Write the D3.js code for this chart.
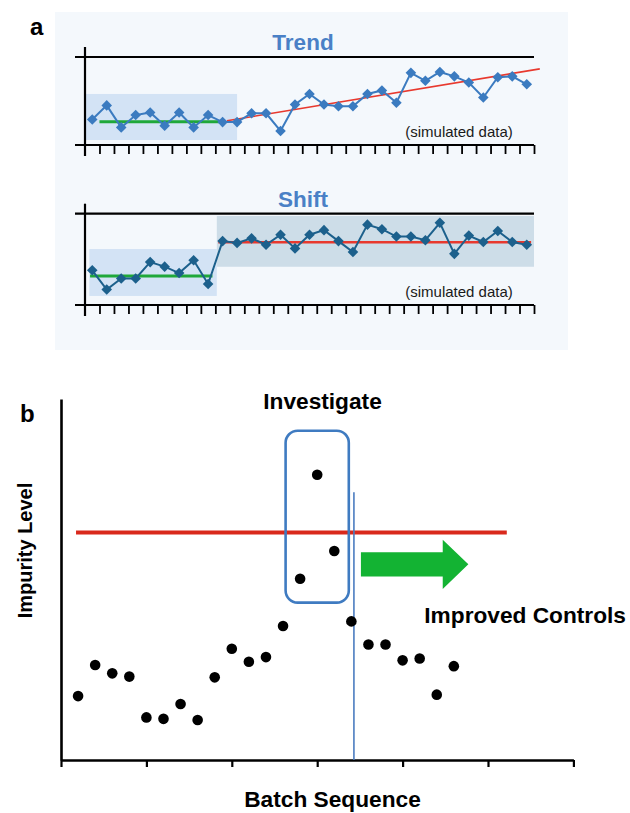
<!DOCTYPE html>
<html>
<head>
<meta charset="utf-8">
<script src="https://cdn.jsdelivr.net/npm/d3@7"></script>
<style>
  html, body { margin: 0; padding: 0; background: #fff; }
  svg { display: block; font-family: "Liberation Sans", Arial, Helvetica, sans-serif; }
</style>
</head>
<body>
<svg id="chart" width="630" height="813"></svg>
<script>
// ---------------- DATA ----------------
// Panel a: run charts (31 batches each), simulated data
const runIndex = d3.range(0, 31);
const trendValues = [2.9, 4.5, 2.0, 3.4, 3.7, 2.2, 3.7, 2.0, 3.4, 2.6, 2.6, 3.6, 3.6, 1.6, 4.6, 5.8,
                     4.6, 4.4, 4.4, 5.8, 6.2, 4.8, 8.2, 7.3, 8.3, 7.8, 7.1, 5.4, 7.7, 7.8, 6.9];
const shiftValues = [3.8, 1.7, 2.9, 2.9, 4.7, 4.2, 3.5, 4.9, 2.3, 7.0, 6.8, 7.3, 6.6, 7.7, 6.2, 7.7,
                     8.2, 7.0, 5.8, 8.8, 8.3, 7.5, 7.5, 7.1, 9.0, 5.6, 7.6, 6.9, 8.1, 6.9, 6.6];
const runTicks = d3.range(0.5, 31, 1);
// reference segments [x0, y0, x1, y1] in data units
const trendBaseline = [0.5, 2.65, 8.95, 2.65];
const trendFit      = [9.3, 2.75, 30.9, 8.65];
const shiftBaseline1 = [-0.15, 3.18, 8.3, 3.18];
const shiftBaseline2 = [8.7, 6.87, 30.3, 6.87];
// shaded zones [x0, y0, x1, y1] in data units
const trendZones = [[-0.5, 0.57, 10.0, 5.8]];
const shiftZones = [[-0.2, 0.99, 8.6, 6.13], [8.6, 4.19, 30.5, 9.75]];

// Panel b: impurity level by batch
const batches = d3.range(1, 24);
const impurity = [17.7, 26.3, 24.0, 23.1, 11.8, 11.4, 15.5, 11.1, 22.9, 30.8, 27.2, 28.5, 37.1,
                  50.2, 79.0, 57.9, 38.4, 32.0, 32.0, 27.6, 28.1, 18.1, 26.0];
const batchTicks = [0, 5, 10, 15, 20, 25, 30];
const limitLine = [0.88, 63.0, 26.1, 63.0];
const investigateBox = [13.15, 43.6, 16.85, 91.2];
const changeLine = [17.15, 0, 17.15, 74.2];
const arrowSpec = [17.56, 22.35, 23.85, 54.2]; // tail x, head-base x, tip x, center y

// ---------------- DRAW ----------------
const svg = d3.select("#chart");

// Panel a background
svg.append("rect").attr("x", 55).attr("y", 12).attr("width", 513).attr("height", 338)
  .attr("fill", "#f4f8fc");

svg.append("text").attr("x", 30).attr("y", 35).attr("font-size", 24).attr("font-weight", "bold")
  .attr("fill", "#000").text("a");

const xA = d3.scaleLinear().domain([-0.5, 30.5]).range([85, 534]);

function runChart(cfg) {
  const y = d3.scaleLinear().domain([0, 10]).range([cfg.bottom, cfg.top]);
  const g = svg.append("g");
  // zones
  g.selectAll("rect.zone").data(cfg.zones).join("rect").attr("class", "zone")
    .attr("x", d => xA(d[0])).attr("y", d => y(d[3]))
    .attr("width", d => xA(d[2]) - xA(d[0])).attr("height", d => y(d[1]) - y(d[3]))
    .attr("fill", (d, i) => cfg.zoneColors[i]);
  // frame lines
  g.append("line").attr("x1", xA(-0.5) - 10).attr("x2", xA(30.5)).attr("y1", y(10)).attr("y2", y(10))
    .attr("stroke", "#000").attr("stroke-width", 2.2);
  g.append("line").attr("x1", xA(-0.5)).attr("x2", xA(-0.5)).attr("y1", y(10) - 10).attr("y2", y(0) + 11)
    .attr("stroke", "#000").attr("stroke-width", 2.2);
  const ax = d3.axisBottom(xA).tickValues(runTicks).tickSize(9).tickSizeOuter(0).tickFormat("");
  const axg = g.append("g").attr("transform", `translate(0,${y(0)})`).call(ax);
  axg.select(".domain").attr("d", `M${xA(-0.5) - 10},0H${xA(30.5)}`).attr("stroke-width", 2.2);
  axg.selectAll(".tick line").attr("stroke-width", 1.8);
  // reference lines
  cfg.refs.forEach(r => {
    g.append("line").attr("x1", xA(r.seg[0])).attr("y1", y(r.seg[1]))
      .attr("x2", xA(r.seg[2])).attr("y2", y(r.seg[3]))
      .attr("stroke", r.color).attr("stroke-width", r.width);
  });
  // series
  g.append("path").datum(cfg.values)
    .attr("d", d3.line().x((d, i) => xA(runIndex[i])).y(d => y(d)))
    .attr("fill", "none").attr("stroke", cfg.color).attr("stroke-width", 2);
  const sym = d3.symbol(d3.symbolSquare, 56);
  g.selectAll("path.pt").data(cfg.values).join("path").attr("class", "pt")
    .attr("d", sym)
    .attr("transform", (d, i) => `translate(${xA(runIndex[i])},${y(d)}) rotate(45)`)
    .attr("fill", cfg.color);
  // title & note
  g.append("text").attr("x", 303).attr("y", cfg.top - 7).attr("text-anchor", "middle")
    .attr("font-size", 22.5).attr("font-weight", "bold").attr("fill", "#4a80c6").text(cfg.title);
  g.append("text").attr("x", 459).attr("y", cfg.bottom - 8.5).attr("text-anchor", "middle")
    .attr("font-size", 15).attr("fill", "#1a1a1a").text("(simulated data)");
}

runChart({
  top: 57, bottom: 145, title: "Trend", values: trendValues, color: "#3b7bc0",
  zones: trendZones, zoneColors: ["#d3e3f5"],
  refs: [{ seg: trendBaseline, color: "#1fa83a", width: 3 },
         { seg: trendFit, color: "#e8392e", width: 1.6 }]
});
runChart({
  top: 213.7, bottom: 305, title: "Shift", values: shiftValues, color: "#1c608c",
  zones: shiftZones, zoneColors: ["#d3e3f5", "#cddde8"],
  refs: [{ seg: shiftBaseline1, color: "#1fa83a", width: 3 },
         { seg: shiftBaseline2, color: "#e8392e", width: 2.6 }]
});

// ---------------- Panel b ----------------
const xB = d3.scaleLinear().domain([0, 30]).range([61, 573.4]);
const yB = d3.scaleLinear().domain([0, 100]).range([760, 399]);
const gb = svg.append("g");

gb.append("text").attr("x", 20).attr("y", 421.7).attr("font-size", 24).attr("font-weight", "bold")
  .attr("fill", "#000").text("b");

const xAxisB = d3.axisBottom(xB).tickValues(batchTicks).tickSize(7).tickSizeOuter(0).tickFormat("");
const xg = gb.append("g").attr("transform", `translate(0,${yB(0)})`).call(xAxisB);
xg.select(".domain").attr("stroke-width", 2.6);
xg.selectAll(".tick line").attr("stroke-width", 2.2);
const yAxisB = d3.axisLeft(yB).tickValues([]).tickSizeOuter(0);
const yg = gb.append("g").attr("transform", `translate(${xB(0)},0)`).call(yAxisB);
yg.select(".domain").attr("stroke-width", 2.6);

gb.append("line").attr("x1", xB(limitLine[0])).attr("y1", yB(limitLine[1]))
  .attr("x2", xB(limitLine[2])).attr("y2", yB(limitLine[3]))
  .attr("stroke", "#d9291c").attr("stroke-width", 4);

gb.append("rect").attr("x", xB(investigateBox[0])).attr("y", yB(investigateBox[3]))
  .attr("width", xB(investigateBox[2]) - xB(investigateBox[0]))
  .attr("height", yB(investigateBox[1]) - yB(investigateBox[3]))
  .attr("rx", 12).attr("ry", 12).attr("fill", "none")
  .attr("stroke", "#3f7bc1").attr("stroke-width", 2.6);

gb.append("line").attr("x1", xB(changeLine[0])).attr("y1", yB(changeLine[1]))
  .attr("x2", xB(changeLine[2])).attr("y2", yB(changeLine[3]))
  .attr("stroke", "#4a7cc0").attr("stroke-width", 1.6);

// arrow
{
  const [tx, hx, px, cy] = arrowSpec;
  const yc = yB(cy), sh = 12.2, hh = 24.7;
  const pts = [[xB(tx), yc - sh], [xB(hx), yc - sh], [xB(hx), yc - hh], [xB(px), yc],
               [xB(hx), yc + hh], [xB(hx), yc + sh], [xB(tx), yc + sh]];
  gb.append("path").attr("d", d3.line()(pts) + "Z").attr("fill", "#13b333");
}

gb.selectAll("circle.dot").data(impurity).join("circle").attr("class", "dot")
  .attr("cx", (d, i) => xB(batches[i])).attr("cy", d => yB(d)).attr("r", 5.3).attr("fill", "#000");

gb.append("text").attr("x", 322.5).attr("y", 409.3).attr("text-anchor", "middle")
  .attr("font-size", 22.7).attr("font-weight", "bold").text("Investigate");
gb.append("text").attr("x", 424.3).attr("y", 622.7)
  .attr("font-size", 22.7).attr("font-weight", "bold").text("Improved Controls");
gb.append("text").attr("x", 332.5).attr("y", 806.7).attr("text-anchor", "middle")
  .attr("font-size", 22.7).attr("font-weight", "bold").text("Batch Sequence");
gb.append("text").attr("transform", "translate(31.7,550.5) rotate(-90)").attr("text-anchor", "middle")
  .attr("font-size", 20).attr("font-weight", "bold").text("Impurity Level");
</script>
</body>
</html>
